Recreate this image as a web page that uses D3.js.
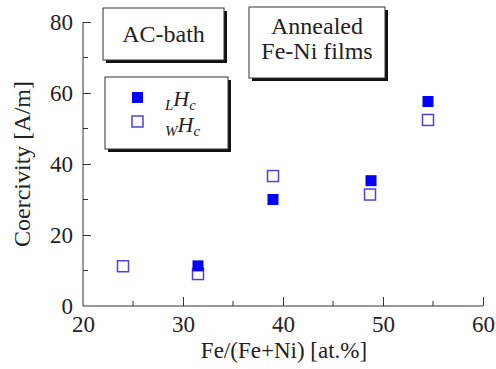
<!DOCTYPE html>
<html>
<head>
<meta charset="utf-8">
<script src="https://cdn.jsdelivr.net/npm/d3@7"></script>
<style>
  body { margin: 0; background: #fff; }
</style>
</head>
<body>
<svg id="chart"></svg>
<script>
var width = 496, height = 369;
var margin = {top: 22, left: 83, right: 13, bottom: 63};
var serif = "'Liberation Serif'";

// data
var xTicks = [20, 30, 40, 50, 60];
var yTicks = [0, 20, 40, 60, 80];
var lHcX = [31.5, 39.0, 48.8, 54.5];
var lHcY = [11.3, 30.0, 35.3, 57.6];
var wHcX = [24.0, 31.5, 39.0, 48.7, 54.5];
var wHcY = [11.2, 9.0, 36.6, 31.4, 52.4];

var svg = d3.select("#chart").attr("width", width).attr("height", height);

var x = d3.scaleLinear().domain([20, 60]).range([margin.left, width - margin.right]);
var y = d3.scaleLinear().domain([0, 80]).range([height - margin.bottom, margin.top]);

// axes, ticks pointing into the plot
var xMinor = d3.range(25, 60, 10);
var yMinor = d3.range(10, 80, 20);

var gx = svg.append("g").attr("transform", "translate(0," + y(0) + ")");
gx.call(d3.axisBottom(x).tickValues(xTicks).tickSize(-9).tickPadding(10).tickFormat(d3.format("d")));
gx.selectAll(".tick").filter(function(d) { return d === 20; }).select("line").remove();
gx.selectAll(".tick line").attr("stroke", "#333");
gx.select(".domain").attr("stroke", "#333").attr("d", "M" + x(20) + ",0H" + x(60));
gx.selectAll("line.minor").data(xMinor).enter().append("line")
  .attr("x1", function(d) { return x(d); }).attr("x2", function(d) { return x(d); })
  .attr("y1", 0).attr("y2", -5).attr("stroke", "#333");

var gy = svg.append("g").attr("transform", "translate(" + x(20) + ",0)");
gy.call(d3.axisLeft(y).tickValues(yTicks).tickSize(-8).tickPadding(10).tickFormat(d3.format("d")));
gy.selectAll(".tick").filter(function(d) { return d === 0; }).select("line").remove();
gy.selectAll(".tick line").attr("stroke", "#333");
gy.select(".domain").attr("stroke", "#333").attr("d", "M0," + y(0) + "V" + y(80));
gy.selectAll("line.minor").data(yMinor).enter().append("line")
  .attr("y1", function(d) { return y(d); }).attr("y2", function(d) { return y(d); })
  .attr("x1", 0).attr("x2", 5).attr("stroke", "#333");

svg.selectAll(".tick text").attr("fill", "#222").style("font-size", "23px");

// axis titles
svg.append("text")
  .attr("x", 284).attr("y", 358)
  .attr("text-anchor", "middle").style("font-size", "23px").attr("fill", "#222")
  .text("Fe/(Fe+Ni) [at.%]");

svg.append("text")
  .attr("transform", "translate(30,164) rotate(-90)")
  .attr("text-anchor", "middle").style("font-size", "24px").attr("fill", "#222")
  .text("Coercivity [A/m]");

// markers
var s = 11;
svg.selectAll("rect.w").data(wHcX).enter().append("rect")
  .attr("class", "w")
  .attr("x", function(d) { return x(d) - s / 2; })
  .attr("y", function(d, i) { return y(wHcY[i]) - s / 2; })
  .attr("width", s).attr("height", s)
  .attr("fill", "#fff").attr("stroke", "#4e42e0").attr("stroke-width", 1.5);

svg.selectAll("rect.l").data(lHcX).enter().append("rect")
  .attr("class", "l")
  .attr("x", function(d) { return x(d) - s / 2; })
  .attr("y", function(d, i) { return y(lHcY[i]) - s / 2; })
  .attr("width", s).attr("height", s)
  .attr("fill", "#0000ff");

// boxes with drop shadow
function box(x0, y0, w, h) {
  svg.append("rect").attr("x", x0 + 3).attr("y", y0 + 3).attr("width", w).attr("height", h).attr("fill", "#111");
  svg.append("rect").attr("x", x0).attr("y", y0).attr("width", w).attr("height", h)
    .attr("fill", "#fff").attr("stroke", "#333").attr("stroke-width", 1);
}

box(103, 8, 121, 52);
svg.append("text").attr("x", 163.5).attr("y", 42).attr("text-anchor", "middle").attr("fill", "#222")
  .style("font-size", "24px").text("AC-bath");

box(249, 7, 136, 71);
svg.append("text").attr("x", 317).attr("y", 34).attr("text-anchor", "middle").attr("fill", "#222")
  .style("font-size", "24px").text("Annealed");
svg.append("text").attr("x", 317).attr("y", 59).attr("text-anchor", "middle").attr("fill", "#222")
  .style("font-size", "24px").text("Fe-Ni films");

box(105, 77, 123, 72);
svg.append("rect").attr("x", 132).attr("y", 92).attr("width", 11).attr("height", 11).attr("fill", "#0000ff");
svg.append("rect").attr("x", 132).attr("y", 116).attr("width", 11).attr("height", 11)
  .attr("fill", "#fff").attr("stroke", "#4e42e0").attr("stroke-width", 1.5);

function hc(sub, ty) {
  var t = svg.append("text").attr("x", 165).attr("y", ty).attr("fill", "#222")
    .style("font-style", "italic").style("font-size", "22px");
  t.append("tspan").attr("dy", 4).style("font-size", "15px").text(sub);
  t.append("tspan").attr("dy", -4).text("H");
  t.append("tspan").attr("dy", 4).style("font-size", "15px").text("c");
}
hc("L", 106);
hc("W", 132);

// serif everywhere, axis groups included
svg.selectAll("text").style("font-family", serif);
</script>
</body>
</html>
